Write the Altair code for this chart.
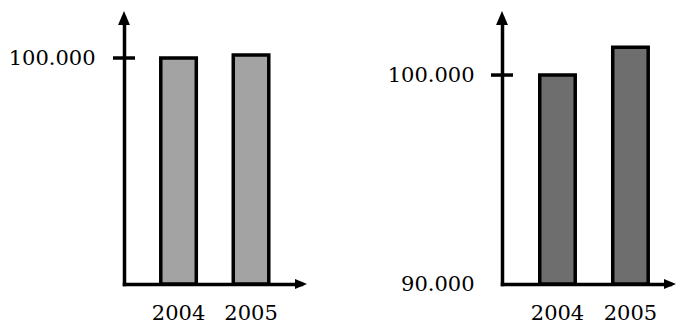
import altair as alt
import pandas as pd

# ---- data ----
YEARS = ["2004", "2005"]
VALUES = [100000, 101330]
LEFT_DOMAIN = [0, 117700]
LEFT_TICKS = [100000]
RIGHT_DOMAIN = [90000, 102730]
RIGHT_TICKS = [90000, 100000]
MARKED_VALUE = 100000
FILLS = ["#a3a3a3", "#6e6e6e"]

H = 266
FONT = "DejaVu Serif"
LABEL_EXPR = "replace(format(datum.value, ',d'), ',', '.')"

df = pd.DataFrame({"year": YEARS, "value": VALUES})

UP_ARROW = "M0,-1L-0.85,1L0.85,1Z"
RIGHT_ARROW = "M1,0L-1,-0.85L-1,0.85Z"


def panel(domain, ticks, fill, lab_pad, width, pin, pout, align):
    x = alt.X(
        "year:N",
        scale=alt.Scale(paddingInner=pin, paddingOuter=pout, align=align),
        axis=alt.Axis(
            title=None, labelAngle=0, ticks=False, tickSize=0, domain=True,
            domainWidth=3.5, domainColor="black", domainCap="square",
            labelFont=FONT, labelFontSize=21, labelColor="black",
            labelPadding=18,
        ),
    )
    y = alt.Y(
        "value:Q",
        scale=alt.Scale(domain=domain, nice=False, zero=False),
        axis=alt.Axis(
            title=None, values=ticks, labelExpr=LABEL_EXPR, ticks=False,
            tickSize=0, grid=False, domainWidth=3.5, domainColor="black",
            domainCap="square", labelFont=FONT, labelFontSize=21,
            labelColor="black", labelPadding=lab_pad,
        ),
    )
    bars = alt.Chart(df).mark_bar(
        fill=fill, stroke="black", strokeWidth=3.5
    ).encode(x=x, y=y, y2=alt.datum(domain[0]))

    tick = alt.Chart(pd.DataFrame({"value": [MARKED_VALUE]})).mark_rule(
        color="black", strokeWidth=3.5
    ).encode(y=y, x=alt.value(-11), x2=alt.value(11))

    up = alt.Chart(pd.DataFrame({"value": [domain[1]]})).mark_point(
        shape=UP_ARROW, filled=True, fill="black", opacity=1, size=196,
        strokeWidth=0,
    ).encode(y=y, x=alt.value(0))

    right = alt.Chart(pd.DataFrame({"value": [domain[0]]})).mark_point(
        shape=RIGHT_ARROW, filled=True, fill="black", opacity=1, size=144,
        strokeWidth=0,
    ).encode(y=y, x=alt.value(width))

    return alt.layer(bars, tick, up, right).properties(width=width, height=H)


left = panel(LEFT_DOMAIN, LEFT_TICKS, FILLS[0], 29, 177, 0.51, 0.476, 0.533)
right = panel(RIGHT_DOMAIN, RIGHT_TICKS, FILLS[1], 28, 168, 0.514, 0.408, 0.634)

chart = alt.hconcat(left, right, spacing=201, bounds="flush").properties(
    padding={"left": 0, "top": 3, "right": 0, "bottom": 0},
    background="white",
).configure_view(stroke=None)

chart.save("out.html", embed_options={"renderer": "svg", "actions": False})
